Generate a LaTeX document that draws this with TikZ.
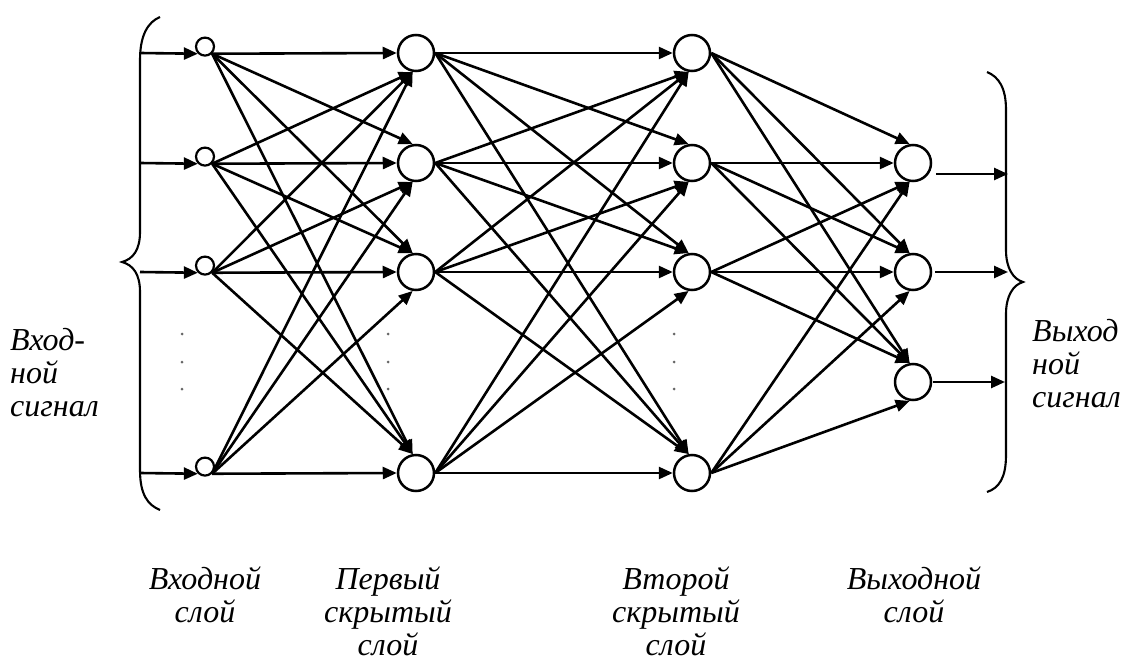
\documentclass[tikz,border=0pt]{standalone}
\usepackage{fontspec}
\setmainfont{Liberation Serif}
\usetikzlibrary{arrows.meta,calc}
\begin{document}
\begin{tikzpicture}[x=1pt,y=-1pt,
  conn/.style={line width=2.6pt,-{Triangle[length=14pt,width=12pt]}},
  inp/.style={circle,draw,line width=2.2pt,minimum size=18pt,inner sep=0pt},
  neu/.style={circle,draw,line width=2.5pt,minimum size=36pt,inner sep=0pt},
  brace/.style={line width=2.1pt},
  lbl/.style={font=\itshape\fontsize{32}{33}\selectfont,inner sep=0pt},
  dotc/.style={fill=black!60}
]
\useasboundingbox (0,0) rectangle (1127,666);

% input layer
\node[inp] (i1) at (205,46.6) {};
\node[inp] (i2) at (205,156.6) {};
\node[inp] (i3) at (205,265.6) {};
\node[inp] (i4) at (205,466.6) {};
% first hidden
\node[neu] (h1) at (416,53) {};
\node[neu] (h2) at (416,163) {};
\node[neu] (h3) at (416,272) {};
\node[neu] (h4) at (416,473) {};
% second hidden
\node[neu] (g1) at (692,53) {};
\node[neu] (g2) at (692,163) {};
\node[neu] (g3) at (692,272) {};
\node[neu] (g4) at (692,473) {};
% output
\node[neu] (o1) at (913,163) {};
\node[neu] (o2) at (913,272) {};
\node[neu] (o3) at (913,382) {};

% brace start points
\coordinate (b1) at (140,53);
\coordinate (b2) at (140,163);
\coordinate (b3) at (140,272);
\coordinate (b4) at (140,473);
% output ends
\coordinate (e1) at (1008,174);
\coordinate (e2) at (1008,272);
\coordinate (e3) at (1005,382);
\coordinate (s1) at (936,174);
\coordinate (s2) at (935,272);
\coordinate (s3) at (933,382);

% braces
\draw[brace] (160,17) .. controls (148,22) and (140,35) .. (140,60) -- (140,232)
  .. controls (140,250) and (133,259) .. (122,262)
  .. controls (133,265) and (140,274) .. (140,292) -- (140,470)
  .. controls (140,495) and (148,505) .. (160,510);
\draw[brace] (987,72) .. controls (999,77) and (1006,88) .. (1006,110) -- (1006,250)
  .. controls (1006,268) and (1013,279) .. (1023,282)
  .. controls (1013,285) and (1006,296) .. (1006,314) -- (1006,455)
  .. controls (1006,478) and (999,488) .. (987,492);

% inputs
\foreach \k in {1,2,3,4}{\draw[conn] (b\k) -- (i\k.south west);}

% input -> hidden 1
\foreach \a in {1,2,3,4}{\foreach \b in {1,2,3,4}{
  \ifnum\a=\b \def\tg{west}\else\ifnum\a<\b \def\tg{100}\else\def\tg{260}\fi\fi
  \draw[conn] (i\a.south east) -- (h\b.\tg);
}}
% hidden 1 -> hidden 2
\foreach \a in {1,2,3,4}{\foreach \b in {1,2,3,4}{
  \ifnum\a=\b \def\tg{west}\else\ifnum\a<\b \def\tg{100}\else\def\tg{260}\fi\fi
  \draw[conn] (h\a.east) -- (g\b.\tg);
}}
% hidden 2 -> output
\foreach \a/\b/\tg in {1/1/100,2/1/west,3/1/260,4/1/260,
                      1/2/100,2/2/100,3/2/west,4/2/260,
                      1/3/100,2/3/100,3/3/100,4/3/260}{
  \draw[conn] (g\a.east) -- (o\b.\tg);
}
% outputs
\foreach \k in {1,2,3}{\draw[conn] (s\k) -- (e\k);}

% dots
\foreach \x in {182,388,674}{\foreach \y in {334,362,389}{\fill[dotc] (\x,\y) circle (1.5);}}

% labels (base anchor = last line)
\node[lbl,anchor=base west,align=left] (lin) at (10,416) {Вход-\\ной\\сигнал};
\node[lbl,anchor=base west,align=left] (lout) at (1032,407) {Выход\\ной\\сигнал};
\node[lbl,anchor=base,align=center] (t1) at (205,622) {Входной\\слой};
\node[lbl,anchor=base,align=center] (t2) at (388,655) {Первый\\скрытый\\слой};
\node[lbl,anchor=base,align=center] (t3) at (676,655) {Второй\\скрытый\\слой};
\node[lbl,anchor=base,align=center] (t4) at (914,622) {Выходной\\слой};
\end{tikzpicture}
\end{document}
